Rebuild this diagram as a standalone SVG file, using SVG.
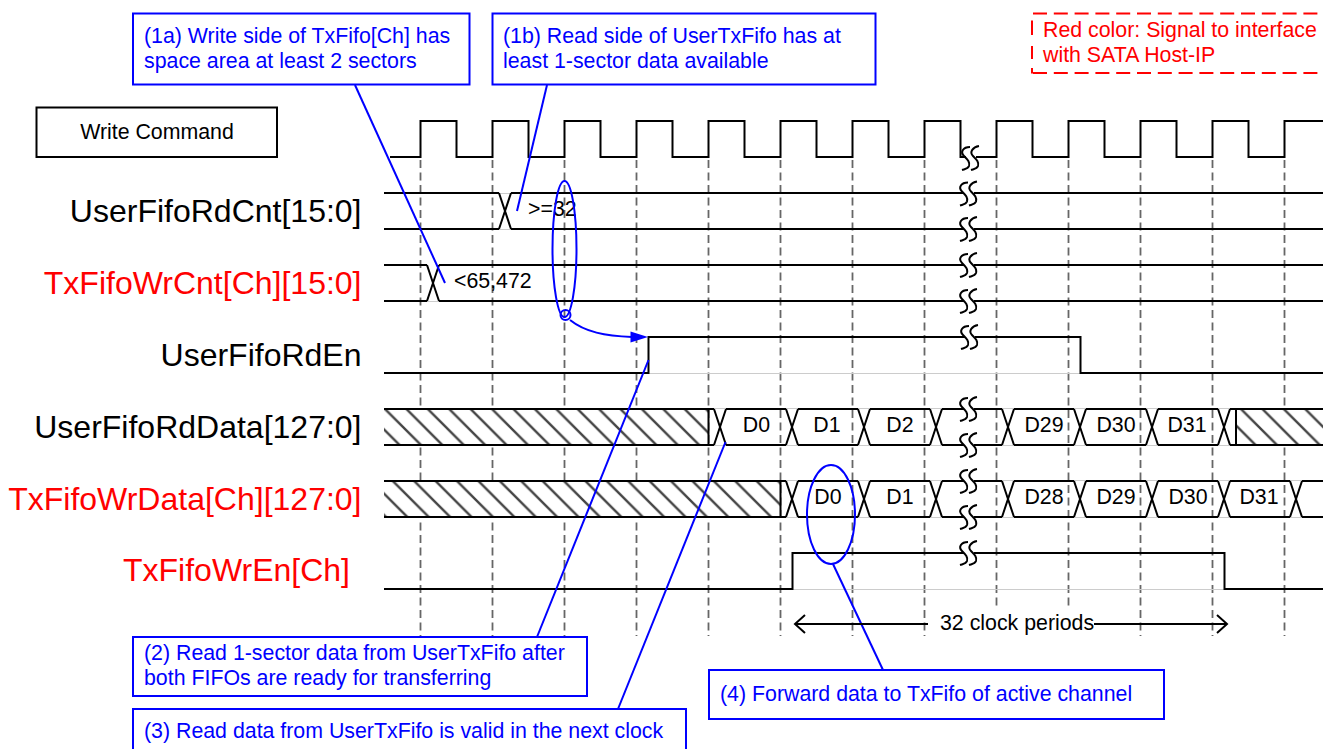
<svg xmlns="http://www.w3.org/2000/svg" width="1323" height="749" viewBox="0 0 1323 749">
<style>
text{font-family:"Liberation Sans",Arial,sans-serif;font-size:21.33px;fill:#000}
.sig{font-size:32px;text-anchor:end}
.red{fill:#f00}
.blu{fill:#00f}
.c{text-anchor:middle}
.w{fill:none;stroke:#000;stroke-width:2}
.g{fill:none;stroke:#ccc;stroke-width:1}
.d{fill:none;stroke:#666;stroke-width:1.8;stroke-dasharray:8 4.5}
.b{fill:none;stroke:#00f;stroke-width:2}
.box{fill:#fff;stroke:#00f;stroke-width:2}
</style>
<defs>
<pattern id="hatch" patternUnits="userSpaceOnUse" x="-2.6" y="0" width="21.4" height="21.4">
<path d="M-2 -2L23.4 23.4M-2 19.4L2 23.4M19.4 -2L23.4 2" fill="none" stroke="#444" stroke-width="2.4"/>
</pattern>
<path id="x" class="w" d="M-6 -18L6 18M-6 18L6 -18"/>
<g id="brk">
<rect x="-5" y="-3" width="10" height="6" fill="#fff"/>
<path class="w" d="M-1 -11C-8 -11 -11 -6 -7 -2C-3 2 -1 4 -2 8C-3 11 -6 11 -9 12M8 -12C2 -11 -2 -6 2 -2C6 2 8 4 7 8C6 11 3 11 0 12"/>
</g>
</defs>

<g id="grid">
<path class="d" d="M420.5 160V636M492.5 160V636M564.5 160V636M636.5 160V636M708.5 160V636M780.5 160V636M852.5 160V636M924.5 160V636M996.5 160V610M1068.5 160V610M1140.5 160V636M1212.5 160V636M1284.5 160V636"/>
</g>

<g id="waveforms">
<path class="g" d="M648 373.5H1080M792 589.5H1224M714 408.5H1236M714 445.5H1236M786 480.5H1323M786 517.5H1323M499 193.5H511M499 229.5H511M427 301.5H1323"/>
<g id="clock"><path class="w" d="M390 157H420.5V121H456.5V157H492.5V121H528.5V157H564.5V121H600.5V157H636.5V121H672.5V157H708.5V121H744.5V157H780.5V121H816.5V157H852.5V121H888.5V157H924.5V121H960.5V157H996.5V121H1032.5V157H1068.5V121H1104.5V157H1140.5V121H1176.5V157H1212.5V121H1248.5V157H1284.5V121H1323"/></g>
<g id="UserFifoRdCnt"><path class="w" d="M384 193H499M384 229H499M511 193H1323M511 229H1323"/><use href="#x" x="505" y="211"/></g>
<g id="TxFifoWrCnt"><path class="w" d="M384 265H427M384 301H427M439 265H1323M439 301H1323"/><use href="#x" x="433" y="283"/></g>
<g id="UserFifoRdEn"><path class="w" d="M384 373H648.5V337H1080.5V373H1323"/></g>
<g id="UserFifoRdData">
<rect x="384" y="409" width="324.5" height="36" fill="#fff"/><rect x="384" y="409" width="324.5" height="36" fill="url(#hatch)"/>
<rect x="1236" y="409" width="87" height="36" fill="#fff"/><rect x="1236" y="409" width="87" height="36" fill="url(#hatch)"/>
<path class="w" d="M384 409H714M384 445H714M708.5 409V445M726 409H786M726 445H786M798 409H858M798 445H858M870 409H930M870 445H930M942 409H1002M942 445H1002M1014 409H1074M1014 445H1074M1086 409H1146M1086 445H1146M1158 409H1218M1158 445H1218M1230 409H1323M1230 445H1323M1236 409V445"/>
<use href="#x" x="720" y="427"/><use href="#x" x="792" y="427"/><use href="#x" x="864" y="427"/><use href="#x" x="936" y="427"/><use href="#x" x="1008" y="427"/><use href="#x" x="1080" y="427"/><use href="#x" x="1152" y="427"/><use href="#x" x="1224" y="427"/>
</g>
<g id="TxFifoWrData">
<rect x="384" y="481" width="396.5" height="36" fill="#fff"/><rect x="384" y="481" width="396.5" height="36" fill="url(#hatch)"/>
<path class="w" d="M384 481H786M384 517H786M780.5 481V517M798 481H858M798 517H858M870 481H930M870 517H930M942 481H1002M942 517H1002M1014 481H1074M1014 517H1074M1086 481H1146M1086 517H1146M1158 481H1218M1158 517H1218M1230 481H1290M1230 517H1290M1302 481H1323M1302 517H1323"/>
<use href="#x" x="792" y="499"/><use href="#x" x="864" y="499"/><use href="#x" x="936" y="499"/><use href="#x" x="1008" y="499"/><use href="#x" x="1080" y="499"/><use href="#x" x="1152" y="499"/><use href="#x" x="1224" y="499"/><use href="#x" x="1296" y="499"/>
</g>
<g id="TxFifoWrEn"><path class="w" d="M384 589H792.5V553H1224.5V589H1323"/></g>
<g id="breaks">
<use href="#brk" x="971" y="158"/><use href="#brk" x="969" y="193.5"/><use href="#brk" x="969" y="229"/><use href="#brk" x="969" y="265"/><use href="#brk" x="969" y="301"/><use href="#brk" x="970" y="337"/><use href="#brk" x="969" y="409"/><use href="#brk" x="969" y="445"/><use href="#brk" x="969" y="481"/><use href="#brk" x="969" y="517"/><use href="#brk" x="969" y="553"/>
</g>
</g>

<g id="signal-labels">
<text class="sig" x="361.500" y="222">UserFifoRdCnt[15:0]</text>
<text class="sig red" x="361.500" y="294">TxFifoWrCnt[Ch][15:0]</text>
<text class="sig" x="361.500" y="366">UserFifoRdEn</text>
<text class="sig" x="361.500" y="438">UserFifoRdData[127:0]</text>
<text class="sig red" x="361.500" y="510">TxFifoWrData[Ch][127:0]</text>
<text class="sig red" x="350" y="581">TxFifoWrEn[Ch]</text>
</g>
<g id="value-labels">
<text x="528" y="216">&gt;=32</text>
<text x="454" y="288">&lt;65,472</text>
<text class="c" x="756.500" y="432">D0</text><text class="c" x="827" y="432">D1</text><text class="c" x="900" y="432">D2</text><text class="c" x="1044" y="432">D29</text><text class="c" x="1116" y="432">D30</text><text class="c" x="1187" y="432">D31</text>
<text class="c" x="828" y="504">D0</text><text class="c" x="900" y="504">D1</text><text class="c" x="1044" y="504">D28</text><text class="c" x="1116" y="504">D29</text><text class="c" x="1188" y="504">D30</text><text class="c" x="1259" y="504">D31</text>
</g>

<g id="connectors">
<path class="b" d="M355 85L445 283"/>
<path class="b" d="M547 85L517 211"/>
<path class="b" d="M537 637L648.500 360"/>
<path class="b" d="M618 709L725.500 442"/>
<path class="b" d="M883 670L833 564"/>
<ellipse class="b" cx="564.500" cy="249" rx="12" ry="68"/>
<circle class="b" cx="565.500" cy="315" r="5"/>
<ellipse class="b" cx="831" cy="514.500" rx="24" ry="49.500"/>
<path class="b" d="M570 320C585 332 605 336 632 337"/>
<path d="M630.500 331.500L648 337L630.500 342.500Z" fill="#00f"/>
<path class="w" d="M928 624H795M805 615L795 624L805 633M1094 624H1227M1217 615L1227 624L1217 633"/>
</g>
<g id="span-label"><text x="940" y="630">32 clock periods</text></g>

<g id="note-write-command"><rect x="36.500" y="107.500" width="240.500" height="49.500" fill="#fff" stroke="#000" stroke-width="2"/><text class="c" x="157" y="139">Write Command</text></g>
<g id="note-1a"><rect class="box" x="133" y="13.500" width="336.500" height="71"/><text class="blu" x="144" y="43">(1a) Write side of TxFifo[Ch] has</text><text class="blu" x="144" y="68">space area at least 2 sectors</text></g>
<g id="note-1b"><rect class="box" x="492.500" y="13.500" width="383" height="71"/><text class="blu" x="503" y="43">(1b) Read side of UserTxFifo has at</text><text class="blu" x="503" y="68">least 1-sector data available</text></g>
<g id="note-red"><path d="M1033 13.500H1323M1033 73H1323" fill="none" stroke="#f00" stroke-width="2" stroke-dasharray="14 6.800"/><path d="M1032 20.500V35M1032 46V59M1032 68V73.500" fill="none" stroke="#f00" stroke-width="2"/><text class="red" x="1043" y="37">Red color: Signal to interface</text><text class="red" x="1043" y="62">with SATA Host-IP</text></g>
<g id="note-2"><rect class="box" x="133" y="637" width="454" height="59"/><text class="blu" x="144" y="660">(2) Read 1-sector data from UserTxFifo after</text><text class="blu" x="144" y="685">both FIFOs are ready for transferring</text></g>
<g id="note-3"><rect class="box" x="133" y="709" width="553" height="60"/><text class="blu" x="144" y="738">(3) Read data from UserTxFifo is valid in the next clock</text></g>
<g id="note-4"><rect class="box" x="709" y="670" width="455" height="49"/><text class="blu" x="720" y="701">(4) Forward data to TxFifo of active channel</text></g>
</svg>
